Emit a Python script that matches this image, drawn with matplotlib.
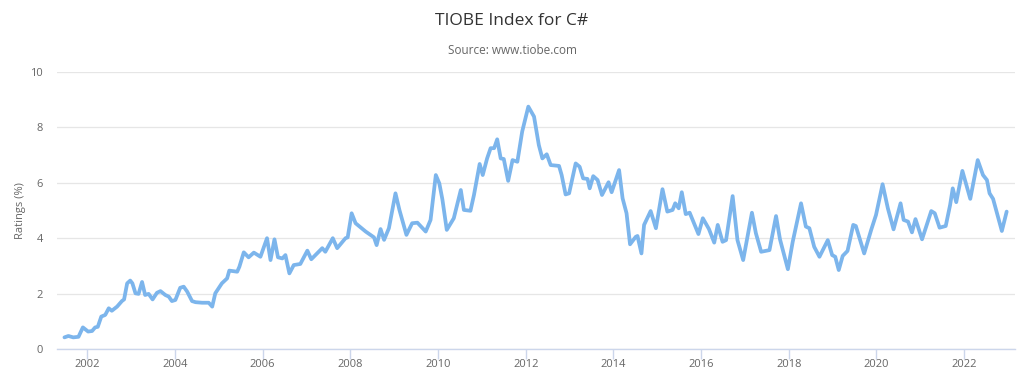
import matplotlib
matplotlib.use("Agg")
import matplotlib.pyplot as plt

years = [2001.48, 2001.57, 2001.68, 2001.80, 2001.90, 2002.02, 2002.11, 2002.18, 2002.24,
         2002.32, 2002.41, 2002.49, 2002.56, 2002.68, 2002.79, 2002.84, 2002.91, 2002.98,
         2003.03, 2003.10, 2003.17, 2003.25, 2003.32, 2003.40, 2003.49, 2003.59, 2003.67,
         2003.78, 2003.86, 2003.93, 2004.01, 2004.12, 2004.20, 2004.28, 2004.39, 2004.47,
         2004.62, 2004.77, 2004.85, 2004.92, 2005.07, 2005.19, 2005.24, 2005.42, 2005.47,
         2005.57, 2005.68, 2005.80, 2005.95, 2006.10, 2006.18, 2006.27, 2006.35, 2006.45,
         2006.52, 2006.61, 2006.71, 2006.86, 2007.02, 2007.11, 2007.36, 2007.43, 2007.60,
         2007.70, 2007.89, 2007.94, 2008.03, 2008.12, 2008.35, 2008.54, 2008.60, 2008.69,
         2008.77, 2008.88, 2009.03, 2009.12, 2009.28, 2009.41, 2009.53, 2009.72, 2009.83,
         2009.95, 2010.03, 2010.10, 2010.20, 2010.36, 2010.52, 2010.59, 2010.74, 2010.82,
         2010.95, 2011.02, 2011.12, 2011.20, 2011.28, 2011.35, 2011.43, 2011.50, 2011.60,
         2011.70, 2011.81, 2011.92, 2012.06, 2012.19, 2012.30, 2012.38, 2012.48, 2012.57,
         2012.76, 2012.82, 2012.91, 2012.99, 2013.14, 2013.23, 2013.31, 2013.41, 2013.46,
         2013.54, 2013.64, 2013.74, 2013.89, 2013.96, 2014.13, 2014.21, 2014.30, 2014.38,
         2014.51, 2014.55, 2014.64, 2014.70, 2014.85, 2014.97, 2015.12, 2015.23, 2015.35,
         2015.41, 2015.49, 2015.56, 2015.65, 2015.74, 2015.94, 2016.04, 2016.18, 2016.30,
         2016.38, 2016.49, 2016.57, 2016.72, 2016.83, 2016.96, 2017.16, 2017.25, 2017.37,
         2017.56, 2017.71, 2017.80, 2017.98, 2018.09, 2018.28, 2018.39, 2018.47, 2018.58,
         2018.70, 2018.89, 2018.99, 2019.06, 2019.14, 2019.23, 2019.34, 2019.47, 2019.53,
         2019.72, 2019.88, 2019.99, 2020.14, 2020.26, 2020.39, 2020.55, 2020.62, 2020.72,
         2020.81, 2020.89, 2021.04, 2021.25, 2021.33, 2021.44, 2021.58, 2021.68, 2021.74,
         2021.82, 2021.96, 2022.14, 2022.31, 2022.43, 2022.52, 2022.58, 2022.66, 2022.86,
         2022.97]
ratings = [0.42, 0.47, 0.42, 0.44, 0.78, 0.63, 0.65, 0.78, 0.80,
           1.17, 1.23, 1.47, 1.38, 1.53, 1.73, 1.79, 2.37, 2.47,
           2.37, 2.01, 1.99, 2.42, 1.95, 1.99, 1.79, 2.03, 2.09,
           1.95, 1.89, 1.73, 1.77, 2.21, 2.25, 2.07, 1.73, 1.69,
           1.67, 1.67, 1.53, 2.01, 2.37, 2.55, 2.83, 2.79, 2.97,
           3.49, 3.31, 3.48, 3.33, 4.00, 3.21, 3.96, 3.31, 3.27,
           3.39, 2.73, 3.03, 3.07, 3.55, 3.24, 3.64, 3.51, 4.00,
           3.64, 4.00, 4.03, 4.90, 4.54, 4.24, 4.03, 3.75, 4.33,
           3.94, 4.36, 5.62, 5.02, 4.12, 4.54, 4.56, 4.24, 4.66,
           6.28, 5.98, 5.40, 4.30, 4.72, 5.74, 5.02, 4.99, 5.56,
           6.68, 6.28, 6.88, 7.25, 7.25, 7.57, 6.88, 6.86, 6.07,
           6.82, 6.76, 7.85, 8.75, 8.39, 7.36, 6.88, 7.03, 6.64,
           6.61, 6.28, 5.58, 5.62, 6.70, 6.58, 6.16, 6.14, 5.80,
           6.24, 6.10, 5.56, 6.02, 5.66, 6.46, 5.44, 4.90, 3.78,
           4.05, 4.08, 3.45, 4.48, 4.98, 4.36, 5.77, 4.96, 5.02,
           5.26, 5.08, 5.66, 4.87, 4.92, 4.15, 4.72, 4.33, 3.84,
           4.48, 3.87, 3.93, 5.52, 3.93, 3.21, 4.92, 4.18, 3.51,
           3.57, 4.80, 3.96, 2.88, 3.87, 5.26, 4.42, 4.36, 3.69,
           3.33, 3.93, 3.39, 3.33, 2.85, 3.36, 3.54, 4.48, 4.44,
           3.45, 4.30, 4.84, 5.95, 5.08, 4.32, 5.26, 4.66, 4.60,
           4.21, 4.69, 3.96, 4.98, 4.90, 4.38, 4.44, 5.20, 5.80,
           5.30, 6.43, 5.42, 6.82, 6.28, 6.10, 5.62, 5.42, 4.26,
           4.96]

x_ticks = [2002, 2004, 2006, 2008, 2010, 2012, 2014, 2016, 2018, 2020, 2022]
y_ticks = [0, 2, 4, 6, 8, 10]

plt.rcParams['font.family'] = ['Open Sans', 'DejaVu Sans']

fig = plt.figure(figsize=(10.24, 3.77), dpi=100)
ax = fig.add_axes([57 / 1024, 28 / 377, (1015 - 57) / 1024, (349 - 72) / 377])

ax.plot(years, ratings, color='#7cb5ec', linewidth=2.7, solid_joinstyle='round',
        solid_capstyle='round', zorder=3)

ax.set_xlim(2001.31, 2023.16)
ax.set_ylim(0, 10)
ax.set_xticks(x_ticks)
ax.set_xticklabels([str(t) for t in x_ticks])
ax.set_yticks(y_ticks)
ax.set_yticklabels([str(t) for t in y_ticks])

ax.grid(axis='y', color='#e6e6e6', linewidth=0.9)
ax.set_axisbelow(True)
for s in ['top', 'right', 'left']:
    ax.spines[s].set_visible(False)
ax.spines['bottom'].set_color('#ccd6eb')
ax.spines['bottom'].set_linewidth(1.0)
ax.tick_params(axis='x', colors='#ccd6eb', length=7, width=1, labelcolor='#666666',
               labelsize=8, pad=0)
ax.tick_params(axis='y', length=0, labelcolor='#666666', labelsize=8, pad=10)

ax.set_ylabel('Ratings (%)', color='#666666', fontsize=8, labelpad=3)

fig.text(0.5, 1 - 21 / 377, 'TIOBE Index for C#', ha='center', va='center',
         fontsize=12.5, color='#333333')
fig.text(0.5, 1 - 50 / 377, 'Source: www.tiobe.com', ha='center', va='center',
         fontsize=8.5, color='#666666')

fig.savefig('out.png', dpi=100, facecolor='white')
